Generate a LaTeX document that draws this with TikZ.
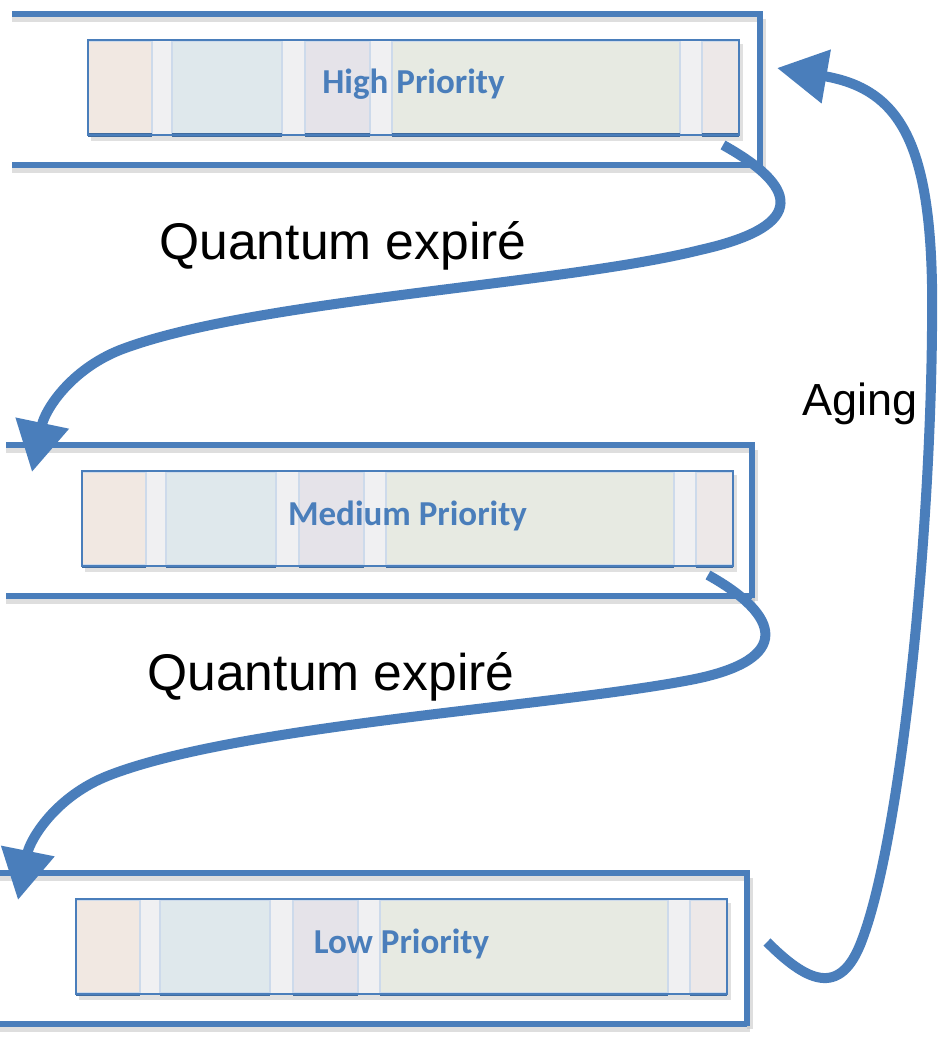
\documentclass[tikz,border=0pt]{standalone}
\usepackage{fontspec}
\setmainfont{Liberation Sans}
\newfontfamily\calfont{Carlito}
\usetikzlibrary{arrows.meta}
\definecolor{ablue}{RGB}{74,126,187}
\definecolor{cpink}{RGB}{241,232,226}
\definecolor{cgap}{RGB}{240,240,242}
\definecolor{cblu}{RGB}{223,232,236}
\definecolor{cpurp}{RGB}{229,227,233}
\definecolor{cgreen}{RGB}{231,234,226}
\definecolor{cend}{RGB}{237,232,232}
\definecolor{cedge}{RGB}{205,218,235}
\tikzset{
  bandline/.style={ablue, line width=5.5pt},
  bandshadow/.style={black!25, line width=6pt, opacity=0.5},
  flow/.style={ablue, line width=10pt, -{Triangle[length=50pt,width=52pt]}},
  qlabel/.style={font=\fontsize{51.6}{60}\selectfont, text=black, inner sep=0pt},
  alabel/.style={font=\fontsize{45}{52}\selectfont, text=black, inner sep=0pt},
  plabel/.style={font=\calfont\bfseries\fontsize{35}{40}\selectfont, text=ablue, inner sep=0pt},
}
% #1 band left x, #2 band top y, #3 inner box left x, #4 band right x, #5 label, #6 name
\newcommand\qband[6]{%
  % shadows
  \draw[bandshadow] (#1,{#2+5}) -- ({#4+3},{#2+5});
  \draw[bandshadow] (#1,{#2+156}) -- ({#4+3},{#2+156});
  \draw[bandshadow] ({#4+3},{#2+5}) -- ({#4+3},{#2+156});
  \fill[black!20, opacity=0.6] ({#3+3},{#2+30}) rectangle ({#3+655},{#2+127});
  % segments
  \foreach \a/\b/\c in {0/64/cpink,64/84/cgap,84/194/cblu,194/217/cgap,217/282/cpurp,282/304/cgap,304/592/cgreen,592/614/cgap,614/651/cend}
    \fill[\c] ({#3+\a},{#2+26}) rectangle ({#3+\b},{#2+121});
  \foreach \a/\b in {0/64,84/194,217/282,304/592,614/651}{
    \draw[cedge, line width=1.2pt] ({#3+\a},{#2+27}) rectangle ({#3+\b},{#2+120});
    \draw[ablue!85!black, line width=3pt] ({#3+\a},{#2+121}) -- ({#3+\b},{#2+121});
  }
  \draw[ablue, line width=2pt] (#3,{#2+26}) rectangle ({#3+651},{#2+121});
  \node[plabel] (#6) at ({#3+325.5},{#2+70.5}) {#5};
  % band lines
  \draw[bandline] (#1,#2) -- (#4,#2);
  \draw[bandline] (#1,{#2+151}) -- (#4,{#2+151});
  \draw[bandline] (#4,{#2-2.75}) -- (#4,{#2+153});
}
\begin{document}
\begin{tikzpicture}[x=1pt,y=-1pt]
\useasboundingbox (0,0) rectangle (944,1046);
\fill[white] (0,0) rectangle (944,1046);

\qband{12}{14}{88}{760}{High Priority}{high}
\qband{6}{445}{82}{752}{Medium Priority}{medium}
\qband{0}{873}{76}{747}{Low Priority}{low}

\coordinate (o1) at (723,145);
\coordinate (i2) at (32,472);
\coordinate (o2) at (708,575);
\coordinate (i3) at (18,900);
\coordinate (o3) at (767,942);
\coordinate (i1) at (777,68);

\node[qlabel] (q1) at (343,246) {Quantum expiré};
\node[qlabel] (q2) at (331,677) {Quantum expiré};
\node[alabel] (ag) at (860,404) {Aging};

\draw[flow] (o1) .. controls (795,185) and (812,225) .. (700,250)
  .. controls (560,285) and (250,300) .. (120,350)
  .. controls (70,370) and (45,410) .. (i2);
\draw[flow] (o2) .. controls (780,615) and (795,660) .. (690,680)
  .. controls (550,707) and (240,725) .. (110,775)
  .. controls (55,796) and (30,840) .. (i3);
\draw[flow] (o3) .. controls (805,980) and (840,1000) .. (862,940)
  .. controls (900,840) and (930,550) .. (932,330)
  .. controls (935,150) and (905,90) .. (i1);
\end{tikzpicture}
\end{document}
